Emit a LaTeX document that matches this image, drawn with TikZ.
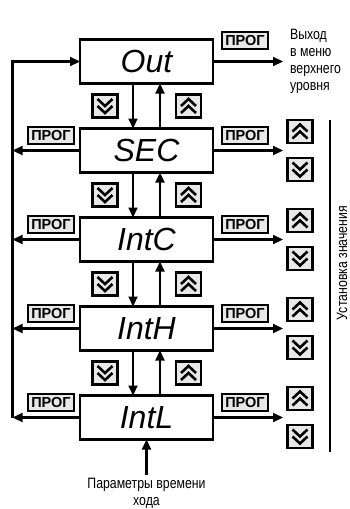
\documentclass[tikz,border=0pt]{standalone}
\usepackage{fontspec}
\setmainfont{Liberation Sans}
\newfontfamily\narrowfont[FakeStretch=0.82]{Liberation Sans}
\usetikzlibrary{positioning,arrows.meta,calc}
\tikzset{
  >={Triangle[length=10pt,width=9pt]},
  param/.style={draw,line width=2.8pt,minimum width=133pt,minimum height=44pt,
    inner sep=0pt,outer sep=0pt,font=\fontsize{32}{32}\selectfont\itshape},
  key/.style={draw,line width=2.2pt,fill=black!9,minimum width=25pt,
    minimum height=23pt,inner sep=0pt},
  prog/.style={draw,line width=2.2pt,fill=black!9,minimum width=46pt,
    minimum height=17pt,inner sep=0pt,font=\fontsize{14.5}{14.5}\selectfont\bfseries},
  chev/.style={-,line width=2.6pt},
  note/.style={font=\narrowfont\fontsize{15}{17}\selectfont},
}
% double chevrons drawn inside a key node
\newcommand{\chevup}[1]{\draw[chev] ($(#1)+(-7.5,0)$) -- ($(#1)+(0,-7)$) -- ($(#1)+(7.5,0)$)
  ($(#1)+(-7.5,7)$) -- ($(#1)+(0,0)$) -- ($(#1)+(7.5,7)$);}
\newcommand{\chevdn}[1]{\draw[chev] ($(#1)+(-7.5,0)$) -- ($(#1)+(0,7)$) -- ($(#1)+(7.5,0)$)
  ($(#1)+(-7.5,-7)$) -- ($(#1)+(0,0)$) -- ($(#1)+(7.5,-7)$);}
\begin{document}
\begin{tikzpicture}[x=1pt,y=-1pt,line width=2.2pt]
\useasboundingbox (0,0) rectangle (349,509);

\node[param] (out) at (146.5,61.5) {Out};
\node[param,below=45pt of out] (sec) {SEC};
\node[param,below=45pt of sec] (intc) {IntC};
\node[param,below=45pt of intc] (inth) {IntH};
\node[param,below=45pt of inth] (intl) {IntL};

\coordinate (lft) at (12.5,0);
\coordinate (rgt) at (283,0);

% moving between parameters
\foreach \a/\b/\i in {out/sec/1,sec/intc/2,intc/inth/3,inth/intl/4}{
  \draw[->] ([xshift=-13.5pt]\a.south) -- ([xshift=-13.5pt]\b.north);
  \draw[->] ([xshift=13.5pt]\b.north) -- ([xshift=13.5pt]\a.south);
  \node[key] (dn\i) at ($(\a.south)!.5!(\b.north)+(-41.5,0)$) {};
  \chevdn{dn\i}
  \node[key] (up\i) at ($(\a.south)!.5!(\b.north)+(42,0)$) {};
  \chevup{up\i}
}

% ПРОГ to the left and to the right
\foreach \b in {sec,intc,inth,intl}{
  \draw[->] (\b.west) -- (\b.west -| lft);
  \draw[->] (\b.east) -- (\b.east -| rgt);
  \node[prog] (pl\b) at ($(\b.center)+(-95.5,-15)$) {ПРОГ};
  \node[prog] (pr\b) at ($(\b.center)+(98.5,-15)$) {ПРОГ};
  \node[key] (ku\b) at ($(\b.center)+(153.5,-19)$) {};
  \chevup{ku\b}
  \node[key] (kd\b) at ($(\b.center)+(153.5,19)$) {};
  \chevdn{kd\b}
}
\draw[->] (intl.west -| lft) -- (out.west -| lft) -- (out.west);

\draw[->] (out.east) -- (out.east -| rgt);
\node[prog] (prout) at ($(out.center)+(98.5,-21)$) {ПРОГ};
\node[note,anchor=north west,align=left,inner sep=0pt] (exit) at (289,28)
  {Выход\\в меню\\верхнего\\уровня};

% value setting
\coordinate (brtop) at (330,120);
\coordinate (brbot) at (330,452);
\draw (brtop) -- (brbot);
\node[note,rotate=90] (set) at (342,263) {Установка значения};

\coordinate (src) at (146.5,475);
\draw[->] (src) -- (intl.south);
\node[note,align=center,inner sep=0pt] (time) at (146.5,493)
  {Параметры времени\\хода};
\end{tikzpicture}
\end{document}
